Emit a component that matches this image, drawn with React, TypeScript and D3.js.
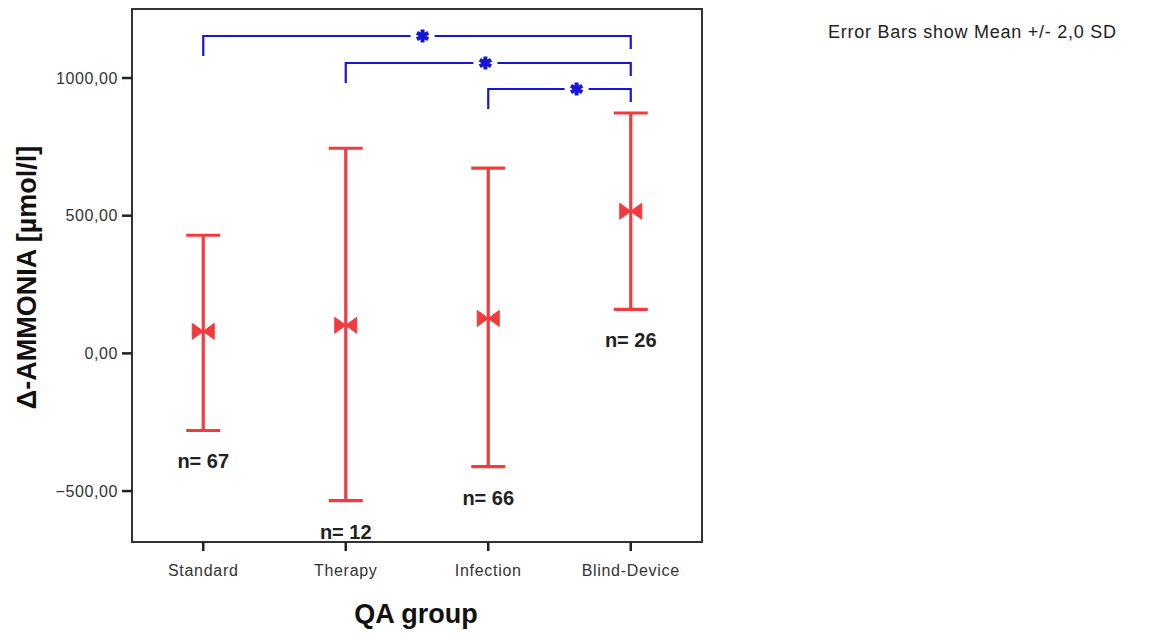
import React from "react";
import * as d3 from "d3";

const categories = ["Standard", "Therapy", "Infection", "Blind-Device"];
const means = [80, 102, 127, 516];
const upper = [429, 745, 673, 873];
const lower = [-280, -535, -411, 160];
const nLabels = ["n= 67", "n= 12", "n= 66", "n= 26"];
const yTicks = [-500, 0, 500, 1000];
const brackets = [
  { from: 0, to: 3, level: 0 },
  { from: 1, to: 3, level: 1 },
  { from: 2, to: 3, level: 2 },
];

const W = 1165;
const H = 635;
const left = 132, right = 702, top = 9, bottom = 542;
const RED = "#f23b3f";
const BLUE = "#1616d6";
const FONT = "'Liberation Sans', Arial, Helvetica, sans-serif";

export default function App() {
  const x = d3.scalePoint<string>().domain(categories).range([left, right]).padding(0.5);
  const y = d3.scaleLinear().domain([-685, 1250.6]).range([bottom, top]);
  const fmt = (v: number) => d3.format(".2f")(v).replace(".", ",");
  const star = d3.symbol().type(d3.symbolAsterisk).size(120)() as string;

  const bracketY = [36, 63, 89];
  const leftDrop = 20;
  const rightDrop = 13;
  const starFrac = [0.513, 0.49, 0.62];

  return (
    <svg width={W} height={H} style={{ position: "absolute", left: 0, top: 0, background: "#fff" }} fontFamily={FONT}>
      <rect x={0} y={0} width={W} height={H} fill="#fff" />
      <rect x={left} y={top} width={right - left} height={bottom - top} fill="none" stroke="#333" strokeWidth={2} />
      {yTicks.map((t) => (
        <g key={t}>
          <line x1={left - 10} x2={left} y1={y(t)} y2={y(t)} stroke="#222" strokeWidth={2.5} />
          <text x={left - 14} y={y(t)} dy="0.35em" textAnchor="end" fontSize={16} letterSpacing={0.6} fill="#333">
            {fmt(t)}
          </text>
        </g>
      ))}
      {categories.map((c) => (
        <g key={c}>
          <line x1={x(c)!} x2={x(c)!} y1={bottom} y2={bottom + 9} stroke="#222" strokeWidth={2.5} />
          <text x={x(c)!} y={bottom + 34} textAnchor="middle" fontSize={16} letterSpacing={0.7} fill="#333">
            {c}
          </text>
        </g>
      ))}
      <text x={416} y={623} textAnchor="middle" fontSize={27} fontWeight="bold" fill="#111">
        QA group
      </text>
      <text
        transform={`translate(36,${(top + bottom) / 2 + 2}) rotate(-90)`}
        textAnchor="middle"
        fontSize={27}
        fontWeight="bold"
        fill="#111"
      >
        Δ-AMMONIA [µmol/l]
      </text>
      <text x={828} y={38} fontSize={18} letterSpacing={0.75} fill="#222">
        Error Bars show  Mean +/- 2,0 SD
      </text>
      {categories.map((c, i) => {
        const cx = x(c)!;
        const ym = y(means[i]);
        return (
          <g key={c}>
            <line x1={cx} x2={cx} y1={y(upper[i])} y2={y(lower[i])} stroke={RED} strokeWidth={3.2} />
            <line x1={cx - 17} x2={cx + 17} y1={y(upper[i])} y2={y(upper[i])} stroke={RED} strokeWidth={3.2} />
            <line x1={cx - 17} x2={cx + 17} y1={y(lower[i])} y2={y(lower[i])} stroke={RED} strokeWidth={3.2} />
            <path
              d={`M${cx - 11},${ym - 8} L${cx},${ym} L${cx - 11},${ym + 8} Z M${cx + 11},${ym - 8} L${cx},${ym} L${cx + 11},${ym + 8} Z`}
              fill={RED}
              stroke={RED}
              strokeWidth={1}
            />
            <text x={cx} y={y(lower[i]) + 31} dy="0.35em" textAnchor="middle" fontSize={20} fontWeight="bold" fill="#222">
              {nLabels[i]}
            </text>
          </g>
        );
      })}
      {brackets.map((b, k) => {
        const x1 = x(categories[b.from])!;
        const x2 = x(categories[b.to])!;
        const by = bracketY[b.level];
        const sx = x1 + (x2 - x1) * starFrac[k];
        return (
          <g key={k}>
            <path
              d={`M${x1},${by + leftDrop} V${by} H${sx - 12} M${sx + 12},${by} H${x2} V${by + rightDrop}`}
              fill="none"
              stroke={BLUE}
              strokeWidth={2.2}
            />
            <path d={star} transform={`translate(${sx},${by})`} stroke={BLUE} strokeWidth={4} fill={BLUE} />
          </g>
        );
      })}
    </svg>
  );
}
